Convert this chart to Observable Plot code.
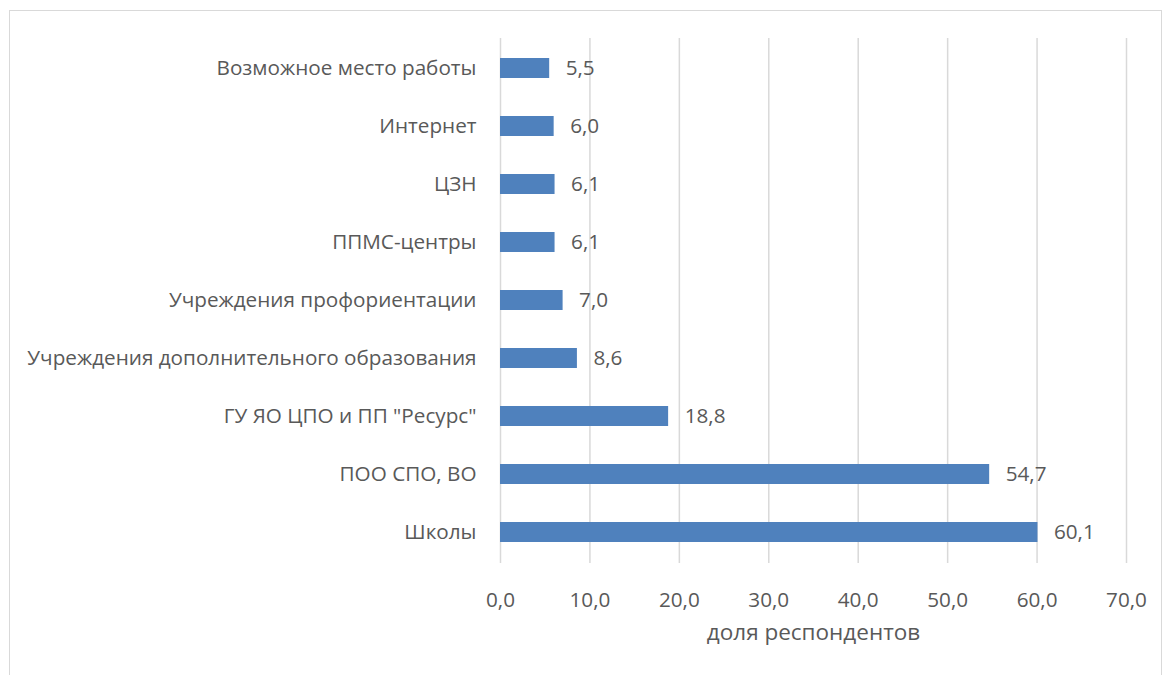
<!DOCTYPE html>
<html>
<head>
<meta charset="utf-8">
<script src="https://cdn.jsdelivr.net/npm/d3@7"></script>
<script src="https://cdn.jsdelivr.net/npm/@observablehq/plot@0.6"></script>
<style>
  html, body { margin: 0; padding: 0; background: #fff; }
  #wrap { position: relative; width: 1165px; height: 675px; }
  #frame { position: absolute; left: 9px; top: 10px; width: 1153px; height: 680px; border: 1.5px solid #d9d9d9; box-sizing: border-box; pointer-events: none; }
  svg { font-family: "Open Sans", sans-serif; }
</style>
</head>
<body>
<div id="wrap"><div id="frame"></div><div id="chart"></div></div>
<script>
const categories = [
  "Школы",
  "ПОО СПО, ВО",
  "ГУ ЯО ЦПО и ПП \"Ресурс\"",
  "Учреждения дополнительного образования",
  "Учреждения профориентации",
  "ППМС-центры",
  "ЦЗН",
  "Интернет",
  "Возможное место работы"
];
const values = [60.1, 54.7, 18.8, 8.6, 7.0, 6.1, 6.1, 6.0, 5.5];
const xTicks = [0, 10, 20, 30, 40, 50, 60, 70];
const xLabel = "доля респондентов";

const data = categories.map((c, i) => ({category: c, value: values[i]}));
const fmt = v => d3.format(".1f")(v).replace(".", ",");
const textColor = "#595959";

const chart = Plot.plot({
  width: 1165,
  height: 675,
  marginLeft: 500,
  marginRight: 39,
  marginTop: 38,
  marginBottom: 112,
  style: {fontSize: "20.7px", color: textColor, background: "transparent"},
  x: {domain: [0, 70], ticks: xTicks, tickFormat: fmt, label: null, tickSize: 0, tickPadding: 29},
  y: {domain: categories.slice().reverse(), label: null, tickSize: 0, tickPadding: 24, paddingInner: 0.655, paddingOuter: 0.33},
  marks: [
    Plot.gridX(xTicks, {stroke: "#d9d9d9", strokeOpacity: 1, strokeWidth: 1.5}),
    Plot.barX(data, {x: "value", y: "category", fill: "#4F81BD"}),
    Plot.text(data, {x: "value", y: "category", text: d => fmt(d.value), textAnchor: "start", dx: 16, fill: textColor, fontSize: 20.7}),
    Plot.axisX({ticks: xTicks, tickFormat: fmt, tickSize: 0, tickPadding: 29, label: null, fill: textColor, fontSize: 20.7}),
    Plot.axisY({tickSize: 0, tickPadding: 24, label: null, fill: textColor, fontSize: 20.7}),
    Plot.text([xLabel], {frameAnchor: "bottom", dy: 76, text: d => d, fontSize: 22.5, fill: textColor})
  ]
});
document.getElementById("chart").appendChild(chart);
</script>
</body>
</html>
